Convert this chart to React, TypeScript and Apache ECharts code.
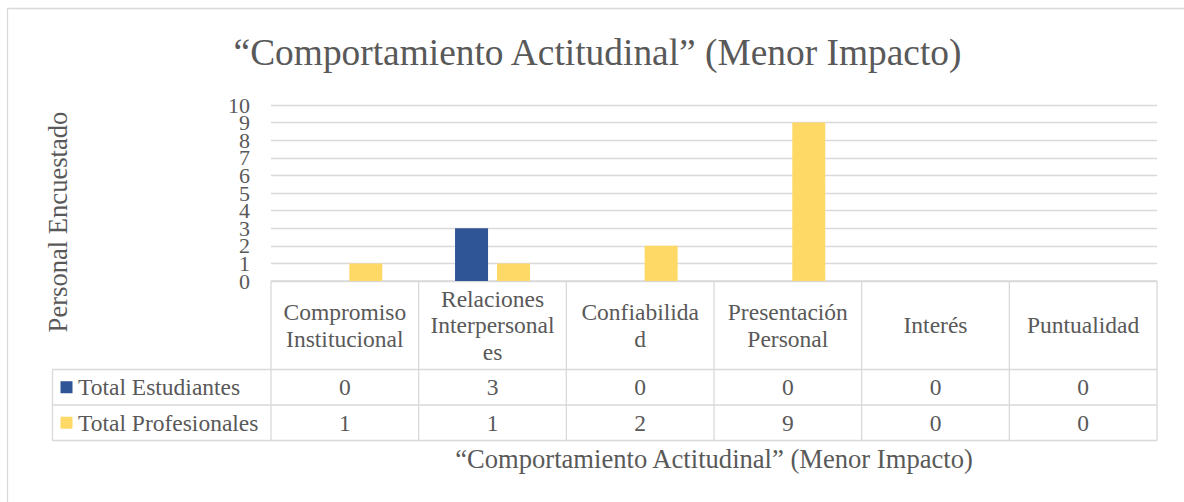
import React, { useEffect, useRef } from 'react';
import * as echarts from 'echarts';

const chartTitle = '“Comportamiento Actitudinal” (Menor Impacto)';
const xAxisTitle = '“Comportamiento Actitudinal” (Menor Impacto)';
const yAxisTitle = 'Personal Encuestado';
const categories = [
  'Compromiso\nInstitucional',
  'Relaciones\nInterpersonal\nes',
  'Confiabilida\nd',
  'Presentación\nPersonal',
  'Interés',
  'Puntualidad',
];
const seriesNames = ['Total Estudiantes', 'Total Profesionales'];
const estudiantes = [0, 3, 0, 0, 0, 0];
const profesionales = [1, 1, 2, 9, 0, 0];
const seriesColors = ['#2F5597', '#FFD966'];
const yTicks = [0, 1, 2, 3, 4, 5, 6, 7, 8, 9, 10];
const yMin = 0;
const yMax = 10;
const yInterval = 1;

const FONT = 'Liberation Serif';
const TEXT = '#595959';
const LINE = '#D9D9D9';

const GRID_LEFT = 271;
const GRID_TOP = 105;
const GRID_W = 886;
const GRID_H = 176;
const HEADER_BOTTOM = 369.5;
const ROW1_BOTTOM = 405;
const ROW2_BOTTOM = 440.5;
const TABLE_LEFT = 52.5;

export default function App() {
  const ref = useRef<HTMLDivElement>(null);

  useEffect(() => {
    if (!ref.current) return;
    const chart = echarts.init(ref.current, undefined, { renderer: 'svg' });
    const base: any = {
      animation: false,
      backgroundColor: '#ffffff',
      textStyle: { fontFamily: FONT },
      grid: { left: GRID_LEFT, top: GRID_TOP, width: GRID_W, height: GRID_H, containLabel: false },
      xAxis: {
        type: 'category',
        data: categories,
        axisLine: { show: false },
        axisTick: { show: false },
        axisLabel: { show: false },
        splitLine: { show: false },
      },
      yAxis: {
        type: 'value',
        min: yMin,
        max: yMax,
        interval: yInterval,
        axisLine: { show: false },
        axisTick: { show: false },
        axisLabel: { show: false },
        splitLine: { lineStyle: { color: LINE, width: 1.3 } },
      },
      series: [
        {
          name: seriesNames[0],
          type: 'bar',
          data: estudiantes,
          barWidth: 33,
          barGap: '27%',
          itemStyle: { color: seriesColors[0] },
        },
        {
          name: seriesNames[1],
          type: 'bar',
          data: profesionales,
          barWidth: 33,
          barGap: '27%',
          itemStyle: { color: seriesColors[1] },
        },
      ],
    };
    chart.setOption(base);

    const centers = categories.map((_, i) => chart.convertToPixel({ xAxisIndex: 0 }, i) as number);
    const step = centers.length > 1 ? centers[1] - centers[0] : GRID_W;
    const bounds = [centers[0] - step / 2, ...centers.map((c) => c + step / 2)];
    const tableRight = bounds[bounds.length - 1];
    const axisY = chart.convertToPixel({ yAxisIndex: 0 }, yMin) as number;

    const txt = (text: string, x: number, y: number, size: number, align: string, extra: any = {}) => ({
      type: 'text',
      x,
      y,
      ...extra,
      style: {
        text,
        fontSize: size,
        fontFamily: FONT,
        fill: TEXT,
        textAlign: align,
        textVerticalAlign: 'middle',
        ...(extra.style || {}),
      },
    });

    const g: any[] = [];
    g.push({
      type: 'rect',
      shape: { x: 7.5, y: 8.5, width: 1200, height: 520 },
      style: { fill: 'none', stroke: LINE, lineWidth: 1.3 },
      silent: true,
    });
    g.push(txt(chartTitle, 597.5, 52, 37.4, 'center'));
    g.push(txt(yAxisTitle, 57.5, 222, 26.6, 'center', { rotation: Math.PI / 2 }));
    g.push(txt(xAxisTitle, (bounds[0] + tableRight) / 2, 459, 26.6, 'center'));

    yTicks.forEach((v) => {
      const y = chart.convertToPixel({ yAxisIndex: 0 }, v) as number;
      g.push(txt(String(v), GRID_LEFT - 21, y, 22, 'right'));
    });

    const hline = (x1: number, x2: number, y: number) =>
      g.push({ type: 'line', shape: { x1, y1: y, x2, y2: y }, style: { stroke: LINE, lineWidth: 1.3 }, silent: true });
    const vline = (x: number, y1: number, y2: number) =>
      g.push({ type: 'line', shape: { x1: x, y1, x2: x, y2 }, style: { stroke: LINE, lineWidth: 1.3 }, silent: true });
    hline(bounds[0], tableRight, axisY);
    hline(TABLE_LEFT, tableRight, HEADER_BOTTOM);
    hline(TABLE_LEFT, tableRight, ROW1_BOTTOM);
    hline(TABLE_LEFT, tableRight, ROW2_BOTTOM);
    bounds.forEach((x) => vline(x, axisY, ROW2_BOTTOM));
    vline(TABLE_LEFT, HEADER_BOTTOM, ROW2_BOTTOM);

    const headerMid = (axisY + HEADER_BOTTOM) / 2;
    const rowMids = [(HEADER_BOTTOM + ROW1_BOTTOM) / 2, (ROW1_BOTTOM + ROW2_BOTTOM) / 2];
    const rows = [estudiantes, profesionales];
    categories.forEach((c, i) => {
      g.push(txt(c, centers[i], headerMid, 23.5, 'center', { style: { lineHeight: 26.5 } }));
      rows.forEach((r, k) => {
        g.push(txt(String(r[i]), centers[i], rowMids[k], 23.5, 'center'));
      });
    });
    seriesNames.forEach((n, k) => {
      g.push({
        type: 'rect',
        shape: { x: 60.5, y: rowMids[k] - 6, width: 12, height: 12 },
        style: { fill: seriesColors[k] },
        silent: true,
      });
      g.push(txt(n, 78, rowMids[k], 23.5, 'left'));
    });

    chart.setOption({ graphic: g });
    return () => chart.dispose();
  }, []);

  return <div ref={ref} style={{ position: 'fixed', left: 0, top: 0, width: 1184, height: 502 }} />;
}
